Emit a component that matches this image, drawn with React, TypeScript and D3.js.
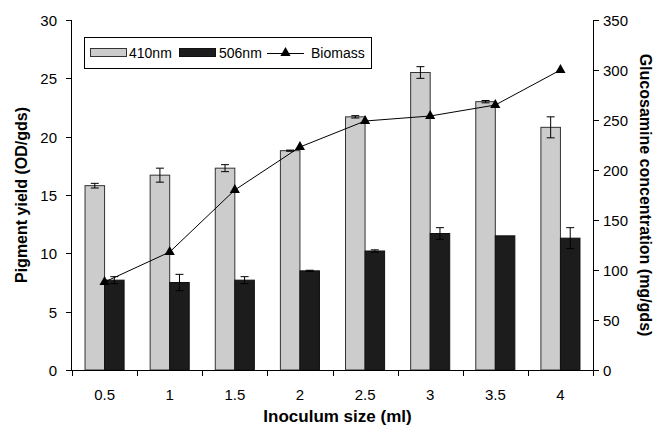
import React, { useRef, useEffect } from 'react';
import * as d3 from 'd3';

const categories = ['0.5', '1', '1.5', '2', '2.5', '3', '3.5', '4'];
const nm410 = [15.8, 16.7, 17.3, 18.8, 21.7, 25.5, 23.0, 20.8];
const nm410Err = [0.2, 0.6, 0.3, 0.05, 0.1, 0.5, 0.1, 0.9];
const nm506 = [7.7, 7.5, 7.7, 8.5, 10.2, 11.7, 11.5, 11.3];
const nm506Err = [0.3, 0.7, 0.3, 0.05, 0.1, 0.5, 0, 0.9];
const biomass = [88, 118, 180, 223, 249, 254, 265, 300];
const leftTicks = [0, 5, 10, 15, 20, 25, 30];
const rightTicks = [0, 50, 100, 150, 200, 250, 300, 350];

const W = 657;
const H = 433;
const margin = { top: 20, right: 64, bottom: 63, left: 72 };
const FONT = '"Liberation Sans", Arial, sans-serif';

const App = () => {
  const svgRef = useRef<SVGSVGElement | null>(null);

  useEffect(() => {
    const svg = d3.select(svgRef.current);
    svg.selectAll('*').remove();

    const x0 = margin.left;
    const x1 = W - margin.right;
    const yb = H - margin.bottom;

    const x = d3.scaleBand<string>().domain(categories).range([x0, x1]).paddingInner(0).paddingOuter(0);
    const yL = d3.scaleLinear().domain([0, 30]).range([yb, margin.top]);
    const yR = d3.scaleLinear().domain([0, 350]).range([yb, margin.top]);

    const bw = x.bandwidth() * 0.3;
    const g = svg.append('g');

    // bars
    categories.forEach((c, i) => {
      const cx = x(c)! + x.bandwidth() / 2;
      g.append('rect')
        .attr('x', cx - bw).attr('y', yL(nm410[i]))
        .attr('width', bw).attr('height', yb - yL(nm410[i]))
        .attr('fill', '#cccccc').attr('stroke', '#333').attr('stroke-width', 1);
      g.append('rect')
        .attr('x', cx).attr('y', yL(nm506[i]))
        .attr('width', bw).attr('height', yb - yL(nm506[i]))
        .attr('fill', '#1c1c1c').attr('stroke', '#111').attr('stroke-width', 1);

      const err = (mx: number, v: number, e: number) => {
        if (e <= 0) return;
        const cap = 4;
        g.append('line').attr('x1', mx).attr('x2', mx).attr('y1', yL(v - e)).attr('y2', yL(v + e)).attr('stroke', '#000');
        [v - e, v + e].forEach((yy) => {
          g.append('line').attr('x1', mx - cap).attr('x2', mx + cap).attr('y1', yL(yy)).attr('y2', yL(yy)).attr('stroke', '#000');
        });
      };
      err(cx - bw / 2, nm410[i], nm410Err[i]);
      err(cx + bw / 2, nm506[i], nm506Err[i]);
    });

    // biomass line
    const line = d3.line<number>()
      .x((_, i) => x(categories[i])! + x.bandwidth() / 2)
      .y((d) => yR(d));
    g.append('path').datum(biomass).attr('d', line).attr('fill', 'none').attr('stroke', '#000').attr('stroke-width', 1);
    const tri = d3.symbol().type(d3.symbolTriangle).size(45)();
    g.selectAll('path.mk').data(biomass).join('path').attr('class', 'mk')
      .attr('d', tri)
      .attr('transform', (d, i) => `translate(${x(categories[i])! + x.bandwidth() / 2},${yR(d)})`)
      .attr('fill', '#000');

    // axes
    const ax = svg.append('g').attr('font-family', FONT).attr('font-size', 15);
    ax.append('line').attr('x1', x0 - 0.5).attr('x2', x0 - 0.5).attr('y1', margin.top).attr('y2', yb).attr('stroke', '#000');
    ax.append('line').attr('x1', x1 + 0.5).attr('x2', x1 + 0.5).attr('y1', margin.top).attr('y2', yb).attr('stroke', '#000');
    ax.append('line').attr('x1', x0 - 0.5).attr('x2', x1 + 0.5).attr('y1', yb + 0.5).attr('y2', yb + 0.5).attr('stroke', '#000');

    leftTicks.forEach((t) => {
      const yy = Math.round(yL(t)) + 0.5;
      ax.append('line').attr('x1', x0 - 6).attr('x2', x0).attr('y1', yy).attr('y2', yy).attr('stroke', '#000');
      ax.append('text').attr('x', x0 - 15).attr('y', yy).attr('dy', '0.35em').attr('text-anchor', 'end').text(t);
    });
    rightTicks.forEach((t) => {
      const yy = Math.round(yR(t)) + 0.5;
      ax.append('line').attr('x1', x1).attr('x2', x1 + 6).attr('y1', yy).attr('y2', yy).attr('stroke', '#000');
      ax.append('text').attr('x', x1 + 10).attr('y', yy).attr('dy', '0.35em').attr('text-anchor', 'start').text(t);
    });
    const bounds = [...categories.map((c) => x(c)!), x1];
    bounds.forEach((bx) => {
      const xx = Math.round(bx) + 0.5;
      ax.append('line').attr('x1', xx).attr('x2', xx).attr('y1', yb).attr('y2', yb + 6).attr('stroke', '#000');
    });
    categories.forEach((c) => {
      ax.append('text').attr('x', x(c)! + x.bandwidth() / 2).attr('y', yb + 30).attr('text-anchor', 'middle').text(c);
    });

    // titles
    ax.append('text').attr('x', (x0 + x1) / 2 + 5).attr('y', 422).attr('text-anchor', 'middle')
      .attr('font-weight', 'bold').attr('font-size', 17).text('Inoculum size (ml)');
    ax.append('text').attr('transform', `translate(27,${(margin.top + yb) / 2}) rotate(-90)`)
      .attr('text-anchor', 'middle').attr('font-weight', 'bold').attr('font-size', 16).text('Pigment yield (OD/gds)');
    ax.append('text').attr('transform', `translate(640,${(margin.top + yb) / 2}) rotate(90)`)
      .attr('text-anchor', 'middle').attr('font-weight', 'bold').attr('font-size', 16).text('Glucosamine concentration (mg/gds)');

    // legend
    const lg = svg.append('g').attr('font-family', FONT).attr('font-size', 14);
    lg.append('rect').attr('x', 84.5).attr('y', 37.5).attr('width', 287).attr('height', 31)
      .attr('fill', '#fff').attr('stroke', '#000');
    lg.append('rect').attr('x', 90.5).attr('y', 48.5).attr('width', 36).attr('height', 8).attr('fill', '#cccccc').attr('stroke', '#333');
    lg.append('text').attr('x', 129).attr('y', 53).attr('dy', '0.35em').text('410nm');
    lg.append('rect').attr('x', 179.5).attr('y', 48.5).attr('width', 36).attr('height', 8).attr('fill', '#1c1c1c').attr('stroke', '#111');
    lg.append('text').attr('x', 219).attr('y', 53).attr('dy', '0.35em').text('506nm');
    lg.append('line').attr('x1', 267).attr('x2', 304).attr('y1', 53.5).attr('y2', 53.5).attr('stroke', '#000');
    lg.append('path').attr('d', tri).attr('transform', 'translate(285.5,53)').attr('fill', '#000');
    lg.append('text').attr('x', 311).attr('y', 53).attr('dy', '0.35em').text('Biomass');
  }, []);

  return (
    <svg ref={svgRef} width={W} height={H} style={{ position: 'absolute', left: 0, top: 0, background: '#fff' }} />
  );
};

export default App;
